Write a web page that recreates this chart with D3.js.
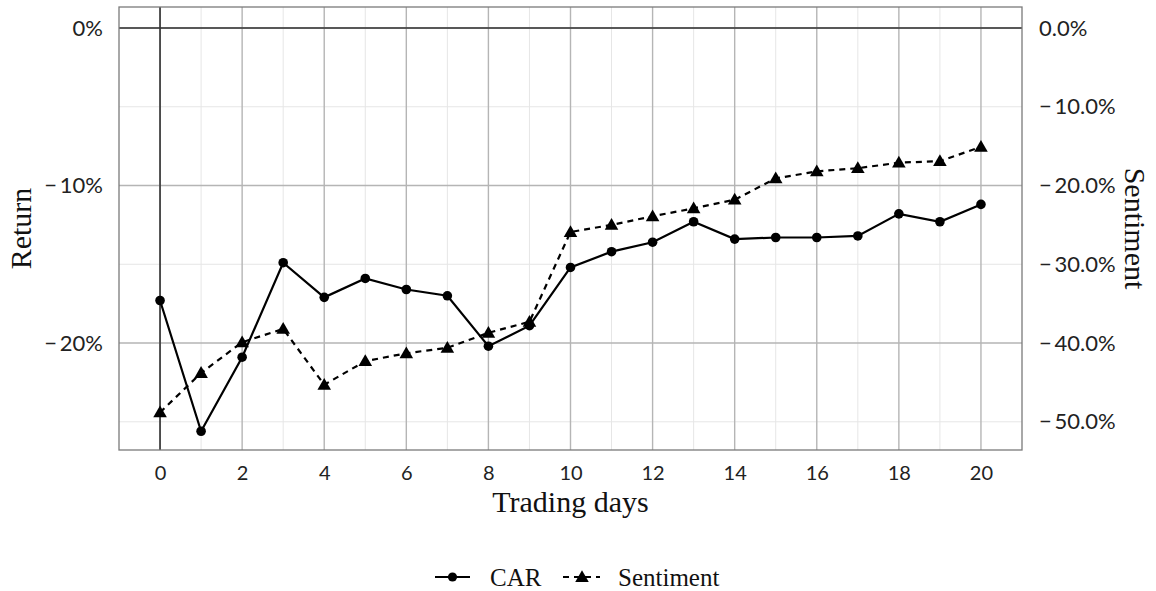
<!DOCTYPE html>
<html>
<head>
<meta charset="utf-8">
<script src="https://cdn.jsdelivr.net/npm/d3@7"></script>
<style>
  body { margin: 0; background: #fff; }
  svg { display: block; }
  .tick text { font-family: Lato, "Open Sans", sans-serif; }
</style>
</head>
<body>
<svg id="chart"></svg>
<script>
// values
const days = [0, 1, 2, 3, 4, 5, 6, 7, 8, 9, 10, 11, 12, 13, 14, 15, 16, 17, 18, 19, 20];
const car = [-17.3, -25.6, -20.9, -14.9, -17.1, -15.9, -16.6, -17.0, -20.2, -18.9, -15.2,
             -14.2, -13.6, -12.3, -13.4, -13.3, -13.3, -13.2, -11.8, -12.3, -11.2];
const sentiment = [-48.8, -43.8, -39.9, -38.2, -45.3, -42.3, -41.3, -40.6, -38.7, -37.3, -25.9,
                   -25.0, -23.9, -22.9, -21.8, -19.1, -18.2, -17.8, -17.1, -16.9, -15.1];
const xTicks = [0, 2, 4, 6, 8, 10, 12, 14, 16, 18, 20];
const leftTicks = [0, -10, -20];
const rightTicks = [0, -10, -20, -30, -40, -50];
const minorY = [-5, -15, -25];

const width = 1156, height = 591;
const panel = {left: 119, right: 1022, top: 7, bottom: 450};

const svg = d3.select("#chart").attr("width", width).attr("height", height);

// scales
const x = d3.scaleLinear().domain([-1, 21]).range([panel.left, panel.right]);
const y = d3.scaleLinear().domain([1.333, -26.79]).range([panel.top, panel.bottom]);
// sentiment axis is return * 2
const y2 = d3.scaleLinear().domain([1.333 * 2, -26.79 * 2]).range([panel.top, panel.bottom]);

const grid = svg.append("g");
// minor grid
grid.selectAll(".mx").data(days.filter(d => d % 2 === 1)).enter().append("line")
  .attr("x1", d => x(d)).attr("x2", d => x(d))
  .attr("y1", panel.top).attr("y2", panel.bottom)
  .attr("stroke", "#e6e6e6").attr("stroke-width", 1);
grid.selectAll(".my").data(minorY).enter().append("line")
  .attr("x1", panel.left).attr("x2", panel.right)
  .attr("y1", d => y(d)).attr("y2", d => y(d))
  .attr("stroke", "#e6e6e6").attr("stroke-width", 1);
// major grid
grid.selectAll(".Mx").data(xTicks).enter().append("line")
  .attr("x1", d => x(d)).attr("x2", d => x(d))
  .attr("y1", panel.top).attr("y2", panel.bottom)
  .attr("stroke", "#b5b5b5").attr("stroke-width", 1.4);
grid.selectAll(".My").data(leftTicks).enter().append("line")
  .attr("x1", panel.left).attr("x2", panel.right)
  .attr("y1", d => y(d)).attr("y2", d => y(d))
  .attr("stroke", "#b5b5b5").attr("stroke-width", 1.4);

// reference lines at 0
svg.append("line").attr("x1", panel.left).attr("x2", panel.right)
  .attr("y1", y(0)).attr("y2", y(0)).attr("stroke", "#333").attr("stroke-width", 1.6);
svg.append("line").attr("x1", x(0)).attr("x2", x(0))
  .attr("y1", panel.top).attr("y2", panel.bottom).attr("stroke", "#333").attr("stroke-width", 1.6);

// panel border
svg.append("rect").attr("x", panel.left).attr("y", panel.top)
  .attr("width", panel.right - panel.left).attr("height", panel.bottom - panel.top)
  .attr("fill", "none").attr("stroke", "#7a7a7a").attr("stroke-width", 1.3);

// axes
const fmtL = d => (d < 0 ? "\u2212\u2009" : "") + Math.abs(d) + "%";
const fmtR = d => (d < 0 ? "\u2212\u2009" : "") + Math.abs(d).toFixed(1) + "%";

const xAxis = svg.append("g").attr("transform", `translate(0,${panel.bottom})`)
  .call(d3.axisBottom(x).tickValues(xTicks).tickSize(0).tickPadding(16));
const yAxis = svg.append("g").attr("transform", `translate(${panel.left},0)`)
  .call(d3.axisLeft(y).tickValues(leftTicks).tickFormat(fmtL).tickSize(0).tickPadding(16));
const yAxis2 = svg.append("g").attr("transform", `translate(${panel.right},0)`)
  .call(d3.axisRight(y2).tickValues(rightTicks).tickFormat(fmtR).tickSize(0).tickPadding(17));
[yAxis, yAxis2].forEach(a => {
  a.select(".domain").remove();
  a.selectAll("text").attr("font-size", 22).attr("fill", "#222");
});
xAxis.select(".domain").remove();
xAxis.selectAll("text").attr("font-size", 20).attr("fill", "#222");

// lines
const carLine = d3.line().x((d, i) => x(days[i])).y(d => y(d));
const sentLine = d3.line().x((d, i) => x(days[i])).y(d => y2(d));

svg.append("path").datum(sentiment).attr("d", sentLine)
  .attr("fill", "none").attr("stroke", "#000").attr("stroke-width", 2.2)
  .attr("stroke-dasharray", "6,5");
svg.append("path").datum(car).attr("d", carLine)
  .attr("fill", "none").attr("stroke", "#000").attr("stroke-width", 2.2);

const tri = d3.symbol().type(d3.symbolTriangle).size(80);
svg.append("g").selectAll("path").data(sentiment).enter().append("path")
  .attr("d", tri)
  .attr("transform", (d, i) => `translate(${x(days[i])},${y2(d) + 1})`)
  .attr("fill", "#000");
svg.append("g").selectAll("circle").data(car).enter().append("circle")
  .attr("cx", (d, i) => x(days[i])).attr("cy", d => y(d))
  .attr("r", 4.8).attr("fill", "#000");

// titles
svg.append("text").attr("x", (panel.left + panel.right) / 2).attr("y", 512)
  .attr("text-anchor", "middle").attr("font-family", "Liberation Serif, serif")
  .attr("font-size", 30).attr("fill", "#111").text("Trading days");
svg.append("text").attr("transform", `translate(31,${(panel.top + panel.bottom) / 2}) rotate(-90)`)
  .attr("text-anchor", "middle").attr("font-family", "Liberation Serif, serif")
  .attr("font-size", 30).attr("fill", "#111").text("Return");
svg.append("text").attr("transform", `translate(1125,${(panel.top + panel.bottom) / 2}) rotate(90)`)
  .attr("text-anchor", "middle").attr("font-family", "Liberation Serif, serif")
  .attr("font-size", 30).attr("fill", "#111").text("Sentiment");

// legend
const legend = svg.append("g").attr("transform", "translate(0,577)");
legend.append("line").attr("x1", 435).attr("x2", 470).attr("y1", 0).attr("y2", 0)
  .attr("stroke", "#000").attr("stroke-width", 2.2);
legend.append("circle").attr("cx", 452.5).attr("cy", 0).attr("r", 4.6).attr("fill", "#000");
legend.append("text").attr("x", 490).attr("y", 9).attr("font-family", "Liberation Serif, serif")
  .attr("font-size", 25).attr("fill", "#111").text("CAR");
legend.append("line").attr("x1", 563).attr("x2", 600).attr("y1", 0).attr("y2", 0)
  .attr("stroke", "#000").attr("stroke-width", 2.2).attr("stroke-dasharray", "6,5");
legend.append("path").attr("d", tri).attr("transform", "translate(582,1)").attr("fill", "#000");
legend.append("text").attr("x", 618).attr("y", 9).attr("font-family", "Liberation Serif, serif")
  .attr("font-size", 25).attr("fill", "#111").text("Sentiment");
</script>
</body>
</html>
